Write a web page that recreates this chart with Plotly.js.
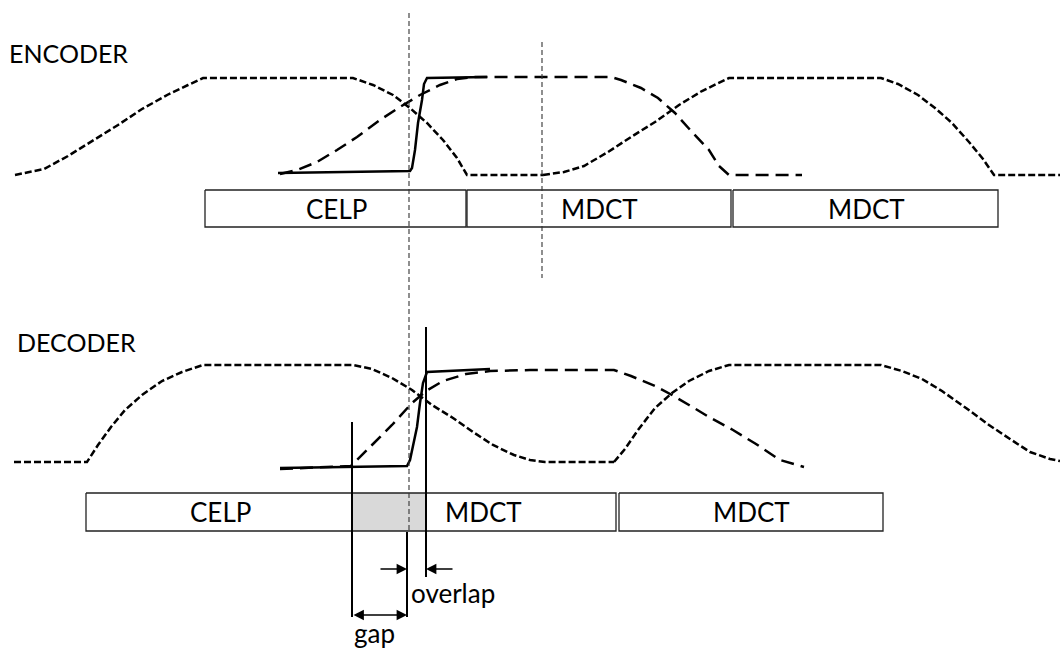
<!DOCTYPE html>
<html><head><meta charset="utf-8">
<script src="https://cdn.plot.ly/plotly-3.0.1.min.js"></script>
<style>html,body{margin:0;padding:0;background:#fff}#chart{width:1060px;height:649px}</style>
</head><body><div id="chart"></div>
<script>
// ---- ENCODER (diagram units: x = time, y = level, y grows downward) ----
const encWin1X = [15,44,68,91,118,142,169,188,203,353,373,393,410,427,443,457,467,543];
const encWin1Y = [175,169,156,142,125,109,94,85,78,78,85,95,108,123,140,158,175,175];
const encWin2X = [543,564,584,608,631,655,679,702,729,881,898,918,935,952,969,983,994,1060];
const encWin2Y = [175,172,166,152,137,122,105,91,78,78,84,95,108,123,142,159,175,175];
const encTransX = [280,297,317,337,357,380,400,420,440,457,473,487,611,621,641,658,675,692,709,719,729,802];
const encTransY = [174,170,162,150,137,120,107,95,85,79,77,77,77,80,88,98,113,132,150,166,175,175];
const encSolidX = [278,350,410,412,415,418,422,424,427,487];
const encSolidY = [173,172,171,168,150,123,100,84,78,77];
const encBoxStart = [205,467,733];
const encBoxEnd = [466,731,998];
const encBoxLabels = ['CELP','MDCT','MDCT'];
const encLabelX = [336,599,866];
const encBoxTop = 190, encBoxBottom = 227;

// ---- DECODER ----
const decWin1X = [14,87,98,111,125,142,162,182,203,353,372,392,412,432,453,473,493,514,530,545,614];
const decWin1Y = [462,462,445,427,410,395,381,372,365,365,369,378,390,405,418,432,445,455,460,462,462];
const decWin2X = [614,625,638,655,672,689,709,729,881,902,922,942,966,989,1010,1030,1050,1060];
const decWin2Y = [462,449,430,408,393,381,371,365,365,371,379,391,408,425,439,452,459,461];
const decTransX = [280,351,372,392,412,426,443,466,490,530,614,631,655,672,689,709,733,756,780,804];
const decTransY = [469,466,445,425,403,391,381,374,371,370,370,376,386,395,405,417,430,444,460,467];
const decSolidX = [280,350,407,410,413,417,420,423,427,490];
const decSolidY = [468,467,466,460,447,427,403,383,372,369];
const decBoxStart = [86,426,619];
const decBoxEnd = [426,616,883];
const decBoxLabels = ['CELP','MDCT','MDCT'];
const decLabelX = [220,483,751];
const decBoxTop = 493, decBoxBottom = 531;

// gap / overlap markers
const gapStart = 352, gapEnd = 407, overlapEnd = 426;
const markerLineTop = [422, 532, 327];
const markerLineBottom = [617, 617, 577];
const guideX = [409, 542];
const guideTop = [13, 42];
const guideBottom = [530, 278];
const overlapArrowY = 569, gapArrowY = 615;

const shortDash = {color:'#000', width:2.5, dash:'7px,3px'};
const longDash = {color:'#000', width:2.5, dash:'13px,7px'};
const solid = {color:'#000', width:2.5};

function tr(x, y, line, extra){ return Object.assign({type:'scatter', mode:'lines', x:x, y:y, line:line, hoverinfo:'skip'}, extra||{}); }

const traces = [];
// grey gap region as a filled trace (beneath everything else)
traces.push(tr([gapStart, overlapEnd, overlapEnd, gapStart, gapStart], [decBoxTop, decBoxTop, decBoxBottom, decBoxBottom, decBoxTop], {width:0, color:'rgba(0,0,0,0)'}, {fill:'toself', fillcolor:'#d9d9d9'}));
traces.push(
  tr(encWin1X, encWin1Y, shortDash),
  tr(encWin2X, encWin2Y, shortDash),
  tr(encTransX, encTransY, longDash),
  tr(encSolidX, encSolidY, solid),
  tr(decWin1X, decWin1Y, shortDash),
  tr(decWin2X, decWin2Y, shortDash),
  tr(decTransX, decTransY, longDash),
  tr(decSolidX, decSolidY, solid)
);
// box outlines
function boxTrace(s, e, top, bottom){ return tr([s,e,e,s,s],[top,top,bottom,bottom,top],{color:'#222', width:1.3}); }
encBoxStart.forEach((s,i)=>traces.push(boxTrace(s, encBoxEnd[i], encBoxTop, encBoxBottom)));
decBoxStart.forEach((s,i)=>traces.push(boxTrace(s, decBoxEnd[i], decBoxTop, decBoxBottom)));
// guide dashed verticals
guideX.forEach((gx,i)=>traces.push(tr([gx,gx],[guideTop[i],guideBottom[i]],{color:'#333',width:1.1,dash:'5px,3px'})));
// gap / overlap solid verticals
[gapStart, gapEnd, overlapEnd].forEach((mx,i)=>traces.push(tr([mx,mx],[markerLineTop[i],markerLineBottom[i]],{color:'#000',width:2})));

const font = {family:'Lato, "Open Sans", sans-serif', size:26, color:'#000'};
const annotations = [];
encBoxLabels.forEach((t,i)=>annotations.push({x:encLabelX[i], y:(encBoxTop+encBoxBottom)/2, xref:'x', yref:'y', text:t, showarrow:false, font:font, xanchor:'center', yanchor:'middle'}));
decBoxLabels.forEach((t,i)=>annotations.push({x:decLabelX[i], y:(decBoxTop+decBoxBottom)/2, xref:'x', yref:'y', text:t, showarrow:false, font:font, xanchor:'center', yanchor:'middle'}));
annotations.push({x:7, y:53, xref:'x', yref:'y', text:'ENCODER', showarrow:false, font:Object.assign({},font,{size:25}), xanchor:'left', yanchor:'middle'});
annotations.push({x:15, y:342, xref:'x', yref:'y', text:'DECODER', showarrow:false, font:Object.assign({},font,{size:25}), xanchor:'left', yanchor:'middle'});
annotations.push({x:gapEnd+2, y:593, xref:'x', yref:'y', text:'overlap', showarrow:false, font:font, xanchor:'left', yanchor:'middle'});
annotations.push({x:gapStart, y:633, xref:'x', yref:'y', text:'gap', showarrow:false, font:font, xanchor:'left', yanchor:'middle'});
// overlap and gap arrows
const arrowBase = {xref:'x', yref:'y', axref:'x', ayref:'y', text:'', showarrow:true, arrowhead:2, arrowsize:1.6, arrowwidth:1.3, arrowcolor:'#000', standoff:0, startstandoff:0};
annotations.push(Object.assign({}, arrowBase, {x:gapEnd, y:overlapArrowY, ax:gapEnd-28, ay:overlapArrowY}));
annotations.push(Object.assign({}, arrowBase, {x:overlapEnd, y:overlapArrowY, ax:overlapEnd+28, ay:overlapArrowY}));
annotations.push(Object.assign({}, arrowBase, {x:gapEnd, y:gapArrowY, ax:gapStart, ay:gapArrowY, arrowside:'end+start', startarrowhead:2, startarrowsize:1.6}));

const layout = {
  width:1060, height:649,
  margin:{l:0,r:0,t:0,b:0},
  paper_bgcolor:'#fff', plot_bgcolor:'#fff',
  showlegend:false,
  xaxis:{range:[0,1060], visible:false, fixedrange:true},
  yaxis:{range:[649,0], visible:false, fixedrange:true},
  annotations:annotations
};
Plotly.newPlot('chart', traces, layout, {staticPlot:true, displayModeBar:false});
</script></body></html>
